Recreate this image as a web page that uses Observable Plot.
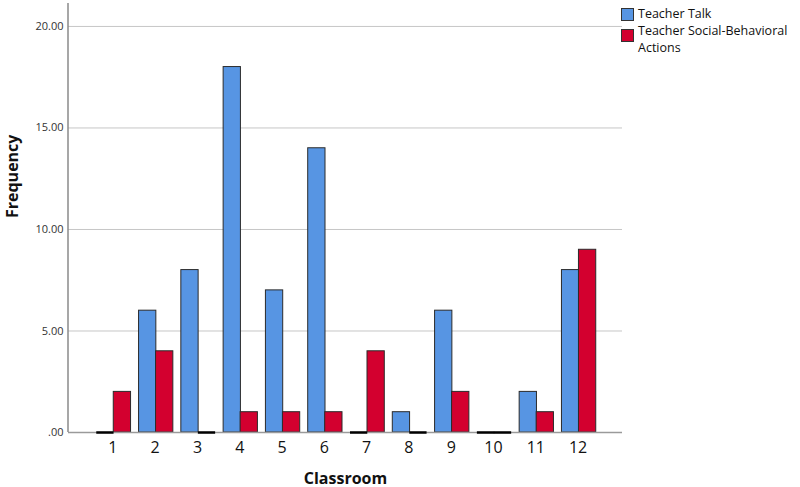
<!DOCTYPE html>
<html>
<head>
<meta charset="utf-8">
<script src="https://cdn.jsdelivr.net/npm/d3@7"></script>
<script src="https://cdn.jsdelivr.net/npm/@observablehq/plot@0.6"></script>
<style>
  body { margin: 0; background: #fff; font-family: "Open Sans", sans-serif; }
  #wrap { position: relative; width: 800px; height: 487px; }
  #legend { position: absolute; left: 621px; top: 5px; font-size: 12.5px; color: #111; line-height: 17px; }
  .item { display: flex; align-items: flex-start; }
  .sw { width: 11px; height: 11px; border: 1px solid #333; margin-right: 4px; flex: none; }
  .item:first-child .sw { margin-top: 2.5px; }
  .item:last-child .sw { margin-top: 7px; }
</style>
</head>
<body>
<div id="wrap">
  <div id="chart"></div>
  <div id="legend"></div>
</div>
<script>
const classrooms = [1,2,3,4,5,6,7,8,9,10,11,12];
const teacherTalk = [0,6,8,18,7,14,0,1,6,0,2,8];
const socialBehavioral = [2,4,0,1,1,1,4,0,2,0,1,9];
const seriesNames = ["Teacher Talk", "Teacher Social-Behavioral Actions"];
const seriesColors = ["#5795e3", "#d3002f"];
const yTicks = [0,5,10,15,20];

const talk = classrooms.map((c,i) => ({classroom: c, value: teacherTalk[i]}));
const social = classrooms.map((c,i) => ({classroom: c, value: socialBehavioral[i]}));

const blueInset = {insetLeft: 5, insetRight: 20};
const redInset = {insetLeft: 22, insetRight: 3};

const chart = Plot.plot({
  width: 800,
  height: 487,
  marginLeft: 68,
  marginRight: 178,
  marginTop: 3,
  marginBottom: 55,
  style: {fontFamily: "'Open Sans', sans-serif", background: "transparent"},
  x: {type: "band", domain: classrooms, paddingInner: 0, paddingOuter: 0.55, round: false},
  y: {domain: [0, 21.13]},
  marks: [
    Plot.ruleY(yTicks.filter(d => d > 0), {stroke: "#c6c6c6", strokeWidth: 1}),
    Plot.barY(talk.filter(d => d.value > 0), {x: "classroom", y: "value", fill: seriesColors[0], stroke: "#2b2b2b", strokeWidth: 1, ...blueInset}),
    Plot.barY(social.filter(d => d.value > 0), {x: "classroom", y: "value", fill: seriesColors[1], stroke: "#2b2b2b", strokeWidth: 1, ...redInset}),
    Plot.ruleY([0], {stroke: "#9a9a9a", strokeWidth: 1.5}),
    Plot.tickY(talk.filter(d => d.value === 0), {x: "classroom", y: "value", stroke: "#000", strokeWidth: 2.5, ...blueInset}),
    Plot.tickY(social.filter(d => d.value === 0), {x: "classroom", y: "value", stroke: "#000", strokeWidth: 2.5, ...redInset}),
    Plot.axisY({ticks: yTicks, tickSize: 0, tickPadding: 5, fontSize: 11, fill: "#333",
      tickFormat: d => d === 0 ? ".00" : d.toFixed(2), label: null}),
    Plot.axisX({tickSize: 0, tickPadding: 9, fontSize: 16, fill: "#111", label: null}),
    Plot.text(["Classroom"], {frameAnchor: "bottom", dy: 51, fontSize: 16, fontWeight: "bold", fill: "#111"}),
    Plot.text(["Frequency"], {frameAnchor: "left", dx: -56, rotate: -90, fontSize: 16, fontWeight: "bold", fill: "#111"})
  ]
});
document.getElementById("chart").appendChild(chart);

// left axis line drawn across full plot height
const svg = d3.select(chart);
svg.append("line").attr("x1", 68).attr("x2", 68).attr("y1", 3).attr("y2", 432)
  .attr("stroke", "#8a8a8a").attr("stroke-width", 1.5);

const legend = document.getElementById("legend");
seriesNames.forEach((name, i) => {
  const item = document.createElement("div");
  item.className = "item";
  const sw = document.createElement("div");
  sw.className = "sw";
  sw.style.background = seriesColors[i];
  const label = document.createElement("div");
  label.innerHTML = name === "Teacher Social-Behavioral Actions" ? "Teacher Social-Behavioral<br>Actions" : name;
  item.appendChild(sw);
  item.appendChild(label);
  legend.appendChild(item);
});
</script>
</body>
</html>
